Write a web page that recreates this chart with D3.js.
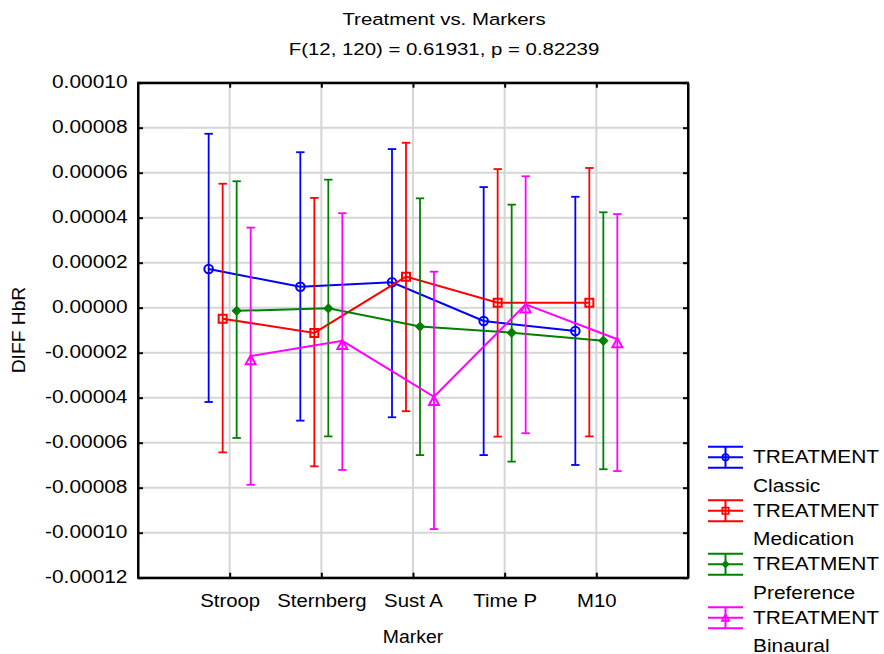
<!DOCTYPE html>
<html>
<head>
<meta charset="utf-8">
<script src="https://cdn.jsdelivr.net/npm/d3@7/dist/d3.min.js"></script>
<style>
  html, body { margin: 0; padding: 0; background: #fff; }
  svg { display: block; }
  text { font-family: "Liberation Sans", Arial, sans-serif; fill: #000; }
</style>
</head>
<body>
<svg id="chart" width="884" height="654"></svg>
<script>
// Marker categories on the x axis
const categories = ["Stroop", "Sternberg", "Sust A", "Time P", "M10"];
// Treatment groups
const seriesNames = ["Classic", "Medication", "Preference", "Binaural"];
const seriesColors = ["#0000ff", "#ff0000", "#008000", "#ff00ff"];
const seriesSymbols = ["circle", "square", "diamond", "triangle"];

// Means and 95% confidence limits of DIFF HbR per marker
const classicMean   = [1.72e-5, 0.93e-5, 1.13e-5, -0.59e-5, -1.04e-5];
const classicUpper  = [7.73e-5, 6.91e-5, 7.05e-5, 5.36e-5, 4.93e-5];
const classicLower  = [-4.19e-5, -5.02e-5, -4.87e-5, -6.55e-5, -6.99e-5];

const medicationMean  = [-0.49e-5, -1.12e-5, 1.38e-5, 0.22e-5, 0.22e-5];
const medicationUpper = [5.51e-5, 4.88e-5, 7.33e-5, 6.16e-5, 6.21e-5];
const medicationLower = [-6.43e-5, -7.05e-5, -4.60e-5, -5.73e-5, -5.72e-5];

const preferenceMean  = [-0.14e-5, -0.03e-5, -0.84e-5, -1.11e-5, -1.47e-5];
const preferenceUpper = [5.62e-5, 5.69e-5, 4.86e-5, 4.58e-5, 4.24e-5];
const preferenceLower = [-5.79e-5, -5.72e-5, -6.55e-5, -6.84e-5, -7.18e-5];

const binauralMean  = [-2.15e-5, -1.47e-5, -3.96e-5, 0.15e-5, -1.40e-5];
const binauralUpper = [3.56e-5, 4.20e-5, 1.60e-5, 5.84e-5, 4.16e-5];
const binauralLower = [-7.87e-5, -7.21e-5, -9.84e-5, -5.58e-5, -7.26e-5];

// Y axis tick values
const yTicks = [0.0001, 0.00008, 0.00006, 0.00004, 0.00002, 0,
                -0.00002, -0.00004, -0.00006, -0.00008, -0.0001, -0.00012];

const titleText = "Treatment vs. Markers";
const subtitleText = "F(12, 120) = 0.61931, p = 0.82239";
const xTitle = "Marker";
const yTitle = "DIFF HbR";
const legendHeading = "TREATMENT";

const series = [
  { name: seriesNames[0], mean: classicMean, upper: classicUpper, lower: classicLower },
  { name: seriesNames[1], mean: medicationMean, upper: medicationUpper, lower: medicationLower },
  { name: seriesNames[2], mean: preferenceMean, upper: preferenceUpper, lower: preferenceLower },
  { name: seriesNames[3], mean: binauralMean, upper: binauralUpper, lower: binauralLower }
].map((s, i) => ({ ...s, color: seriesColors[i], symbol: seriesSymbols[i] }));

const svg = d3.select("#chart");
const plot = { left: 138, right: 688, top: 82.7, bottom: 577.7 };

const x = d3.scalePoint().domain(categories).range([plot.left, plot.right]).padding(1);
const offset = d3.scalePoint().domain(seriesNames).range([-21, 21]);
const y = d3.scaleLinear().domain([-0.00012, 0.0001]).range([plot.bottom, plot.top]);

// Widen glyphs horizontally around each text's anchor point
function stretchText(sel, sx) {
  sel.each(function () {
    const t = d3.select(this);
    const tx = +t.attr("x") || 0, ty = +t.attr("y") || 0;
    const prev = t.attr("transform") || "";
    t.attr("x", 0).attr("y", 0)
     .attr("transform", `${prev} translate(${tx},${ty}) scale(${sx},1)`);
  });
}

// Grid
const grid = svg.append("g").attr("stroke", "#d6d6d6").attr("stroke-width", 2);
grid.selectAll(".h").data(yTicks).join("line")
  .attr("x1", plot.left).attr("x2", plot.right)
  .attr("y1", d => y(d)).attr("y2", d => y(d));
grid.selectAll(".v").data(categories).join("line")
  .attr("x1", d => x(d)).attr("x2", d => x(d))
  .attr("y1", plot.top).attr("y2", plot.bottom);

// Symbol paths centred on a data point
function symbolPath(type, s) {
  switch (type) {
    case "circle":
      return `M${-s},0a${s},${s} 0 1,0 ${2 * s},0a${s},${s} 0 1,0 ${-2 * s},0Z`;
    case "square":
      return `M${-s},${-s}H${s}V${s}H${-s}Z`;
    case "diamond":
      return `M0,${-s}L${s},0L0,${s}L${-s},0Z`;
    case "triangle":
      return `M0,${-0.2 * s}L${1.15 * s},${1.9 * s}L${-1.15 * s},${1.9 * s}Z`;
  }
}
const symbolSize = { circle: 4.3, square: 4, diamond: 3.8, triangle: 4.3 };

// Series: error bars, connecting line, markers
series.forEach(s => {
  const g = svg.append("g").attr("stroke", s.color).attr("fill", "none").attr("stroke-width", 1.8);
  const pts = categories.map((c, i) => ({
    cx: x(c) + offset(s.name), m: s.mean[i], hi: s.upper[i], lo: s.lower[i]
  }));
  const bars = g.selectAll(".bar").data(pts).join("g");
  bars.append("line")
    .attr("x1", d => d.cx).attr("x2", d => d.cx)
    .attr("y1", d => y(d.hi)).attr("y2", d => y(d.lo));
  bars.append("line")
    .attr("x1", d => d.cx - 4.2).attr("x2", d => d.cx + 4.2)
    .attr("y1", d => y(d.hi)).attr("y2", d => y(d.hi));
  bars.append("line")
    .attr("x1", d => d.cx - 4.2).attr("x2", d => d.cx + 4.2)
    .attr("y1", d => y(d.lo)).attr("y2", d => y(d.lo));
  g.append("path")
    .attr("stroke-width", 2)
    .attr("d", d3.line().x(d => d.cx).y(d => y(d.m))(pts));
  g.selectAll(".mk").data(pts).join("path")
    .attr("stroke-width", 2)
    .attr("fill", s.symbol === "diamond" ? s.color : "none")
    .attr("transform", d => `translate(${d.cx},${y(d.m)})`)
    .attr("d", symbolPath(s.symbol, symbolSize[s.symbol]));
});

// Frame and inward ticks
const fontTick = "18.5px";
const axisStyle = g => {
  g.select(".domain").attr("stroke", "#000").attr("stroke-width", 2);
  g.selectAll(".tick line").attr("stroke", "#000").attr("stroke-width", 2);
  g.attr("font-family", null).attr("font-size", null);
};

const yAxis = svg.append("g").attr("transform", `translate(${plot.left},0)`)
  .call(d3.axisLeft(y).tickValues(yTicks).tickSizeInner(-5).tickSizeOuter(0)
    .tickPadding(10.5).tickFormat(d => d.toFixed(5).replace("−", "-")))
  .call(axisStyle);
yAxis.selectAll("text").style("font-size", fontTick).attr("dy", "0.25em");
stretchText(yAxis.selectAll("text"), 1.13);

svg.append("g").attr("transform", `translate(${plot.right},0)`)
  .call(d3.axisRight(y).tickValues(yTicks).tickSizeInner(-5).tickSizeOuter(0).tickFormat(""))
  .call(axisStyle);

svg.append("g").attr("transform", `translate(0,${plot.top})`)
  .call(d3.axisTop(x).tickSizeInner(-5).tickSizeOuter(0).tickFormat(""))
  .call(axisStyle);

const xAxis = svg.append("g").attr("transform", `translate(0,${plot.bottom})`)
  .call(d3.axisBottom(x).tickSizeInner(-5).tickSizeOuter(0))
  .call(axisStyle);
xAxis.selectAll("text").style("font-size", fontTick).attr("y", 29).attr("dy", null);
stretchText(xAxis.selectAll("text"), 1.1);

// Full frame rectangle
svg.append("rect")
  .attr("x", plot.left).attr("y", plot.top)
  .attr("width", plot.right - plot.left).attr("height", plot.bottom - plot.top)
  .attr("fill", "none").attr("stroke", "#000").attr("stroke-width", 2);

// Titles
const tt = svg.append("g").attr("text-anchor", "middle").style("font-size", "17px");
tt.append("text").attr("x", 444).attr("y", 25).text(titleText);
tt.append("text").attr("x", 444).attr("y", 54.5).text(subtitleText);
stretchText(tt.selectAll("text"), 1.2);

const xt = svg.append("text").attr("text-anchor", "middle").style("font-size", fontTick)
  .attr("x", 413).attr("y", 643).text(xTitle);
stretchText(xt, 1.05);

const yt = svg.append("text").attr("text-anchor", "middle").style("font-size", fontTick)
  .attr("transform", "translate(25,330) rotate(-90)").text(yTitle);
stretchText(yt, 1.04);

// Legend
const legend = svg.append("g");
series.forEach((s, i) => {
  const cy = 457.3 + i * 53.5;
  const g = legend.append("g").attr("stroke", s.color).attr("stroke-width", 2).attr("fill", "none");
  [-10.5, 0, 10.5].forEach(dy => {
    g.append("line").attr("x1", 708).attr("x2", 743).attr("y1", cy + dy).attr("y2", cy + dy);
  });
  g.append("line").attr("x1", 725.5).attr("x2", 725.5).attr("y1", cy - 10.5).attr("y2", cy + 10.5);
  g.append("path")
    .attr("stroke-width", 1.6)
    .attr("fill", s.symbol === "diamond" ? s.color : "none")
    .attr("transform", `translate(725.5,${s.symbol === "triangle" ? cy - 3 : cy})`)
    .attr("d", symbolPath(s.symbol, s.symbol === "diamond" ? 3 : 3.2));
  const t = legend.append("g").style("font-size", fontTick);
  t.append("text").attr("x", 753).attr("y", cy + 6).text(legendHeading);
  t.append("text").attr("x", 753).attr("y", cy + 34.4).text(s.name);
  stretchText(t.selectAll("text"), 1.13);
});
</script>
</body>
</html>
